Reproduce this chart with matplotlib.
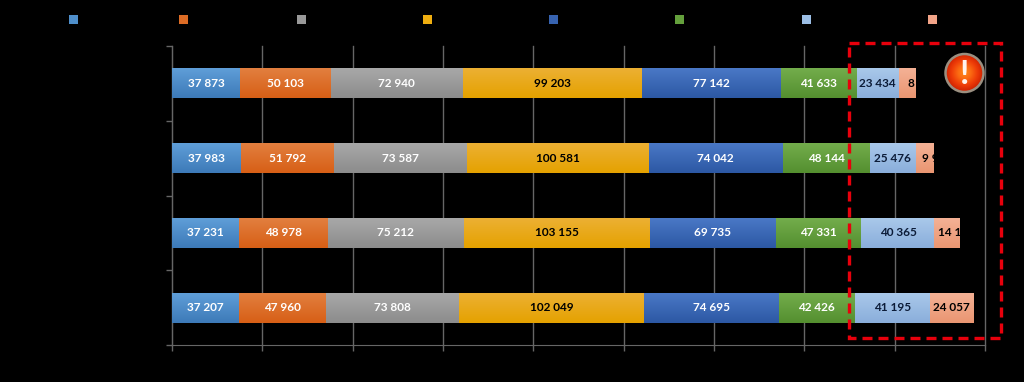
import numpy as np
import matplotlib.pyplot as plt
from matplotlib.colors import LinearSegmentedColormap
from matplotlib.patches import Rectangle, Circle

rows = [0, 1, 2, 3]
s1 = [37873, 37983, 37231, 37207]
s2 = [50103, 51792, 48978, 47960]
s3 = [72940, 73587, 75212, 73808]
s4 = [99203, 100581, 103155, 102049]
s5 = [77142, 74042, 69735, 74695]
s6 = [41633, 48144, 47331, 42426]
s7 = [23434, 25476, 40365, 41195]
s8 = [8900, 9900, 14200, 24057]
series = [s1, s2, s3, s4, s5, s6, s7, s8]

# labels of the last series are cut off by the bar in the original
last_labels = ['8', '9 9', '14 1', '24 057']

top_col = ['#5f9ed8', '#e27f3f', '#a8a8a8', '#ecb033', '#4a78c6', '#73ad4c', '#a9c8ea', '#f4b195']
bot_col = ['#3d7ab8', '#d75f16', '#8c8c8c', '#e5a200', '#2c58a4', '#548f2f', '#8aaedb', '#ea9672']
leg_col = ['#4f8fcb', '#dd6c25', '#999999', '#efae10', '#3763b0', '#64a03c', '#9cbfe6', '#f2a488']
text_col = ['white', 'white', 'white', 'black', 'white', 'white', '#0c1c38', 'black']
leg_x = [68.5, 178.5, 296.5, 422.5, 549, 675, 802, 928]

plt.rcParams['font.family'] = ['Lato', 'DejaVu Sans']

fig = plt.figure(figsize=(10.24, 3.82), dpi=100, facecolor='black')
ax = fig.add_axes([172 / 1024, 1 - 345 / 382, 813 / 1024, 299 / 382], facecolor='black')
ax.set_xlim(0, 450000)
ax.set_ylim(3.5, -0.5)

grad = np.linspace(0, 1, 64).reshape(-1, 1)
left = np.zeros(4)
for i, vals in enumerate(series):
	bars = ax.barh(rows, vals, left=left, height=0.4, color=bot_col[i], zorder=2)
	cmap = LinearSegmentedColormap.from_list('g', [top_col[i], bot_col[i]])
	for j, b in enumerate(bars):
		x0, x1 = left[j], left[j] + vals[j]
		im = ax.imshow(grad, cmap=cmap, aspect='auto', zorder=3,
					   extent=(x0, x1, rows[j] + 0.2, rows[j] - 0.2))
		im.set_clip_path(b)
		if i == 7:
			lab = last_labels[j]
			# cut labels sit to the right, starting close to the bar's left end
			if j == 3:
				t = ax.text((x0 + x1) / 2, rows[j], lab, ha='center', va='center')
			else:
				t = ax.text(x0 + [4700, 3300, 2200][j], rows[j], lab, ha='left', va='center')
			t.set_clip_path(b)
		else:
			lab = f'{vals[j]:,}'.replace(',', ' ')
			t = ax.text((x0 + x1) / 2, rows[j], lab, ha='center', va='center')
		t.set_color(text_col[i])
		t.set_fontsize(8.5)
		t.set_fontweight('bold')
		t.set_zorder(4)
	left = left + np.array(vals)
ax.set_xlim(0, 450000)
ax.set_ylim(3.5, -0.5)

ax.set_xticks(np.arange(0, 450001, 50000))
ax.set_yticks([-0.5, 0.5, 1.5, 2.5, 3.5])
ax.set_xticklabels([])
ax.set_yticklabels([])
ax.grid(axis='x', color='#666666', linewidth=1.0, zorder=1, clip_on=False)
ax.set_axisbelow(True)
ax.tick_params(color='#666666', length=4, width=1.0)
ax.spines['top'].set_visible(False)
ax.spines['right'].set_visible(False)
ax.spines['left'].set_color('#666666')
ax.spines['bottom'].set_color('#666666')

# overlay in pixel coordinates for legend squares, dashed box and alert icon
ov = fig.add_axes([0, 0, 1, 1], facecolor='none')
ov.set_xlim(0, 1024)
ov.set_ylim(382, 0)
ov.axis('off')
for x, c in zip(leg_x, leg_col):
	ov.add_patch(Rectangle((x, 15.2), 9, 9, facecolor=c, edgecolor='none'))
ov.add_patch(Rectangle((849, 43), 152, 295, fill=False, edgecolor='#e8000c',
					   linewidth=2.4, linestyle=(0, (3, 1.8))))

R = np.hypot(*np.meshgrid(np.linspace(-1, 1, 80), np.linspace(-1, 1, 80)))
icon_cmap = LinearSegmentedColormap.from_list('ic', ['#ff8a18', '#fb6a12', '#ee3c08', '#cc2000'])
ic = ov.imshow(R, cmap=icon_cmap, extent=(945, 984, 92.5, 53.5), vmin=0, vmax=1, zorder=5, aspect='auto')
ic.set_clip_path(Circle((964.5, 73), 19, transform=ov.transData))
ov.add_patch(Circle((964.5, 73), 19, fill=False, edgecolor='#9a8f80', linewidth=1.8, zorder=6))
ov.text(964.5, 74, '!', color='#fff4ee', fontsize=24, fontweight='bold', ha='center', va='center', zorder=7)
ov.set_xlim(0, 1024)
ov.set_ylim(382, 0)

fig.savefig('out.png', dpi=100, facecolor='black')
